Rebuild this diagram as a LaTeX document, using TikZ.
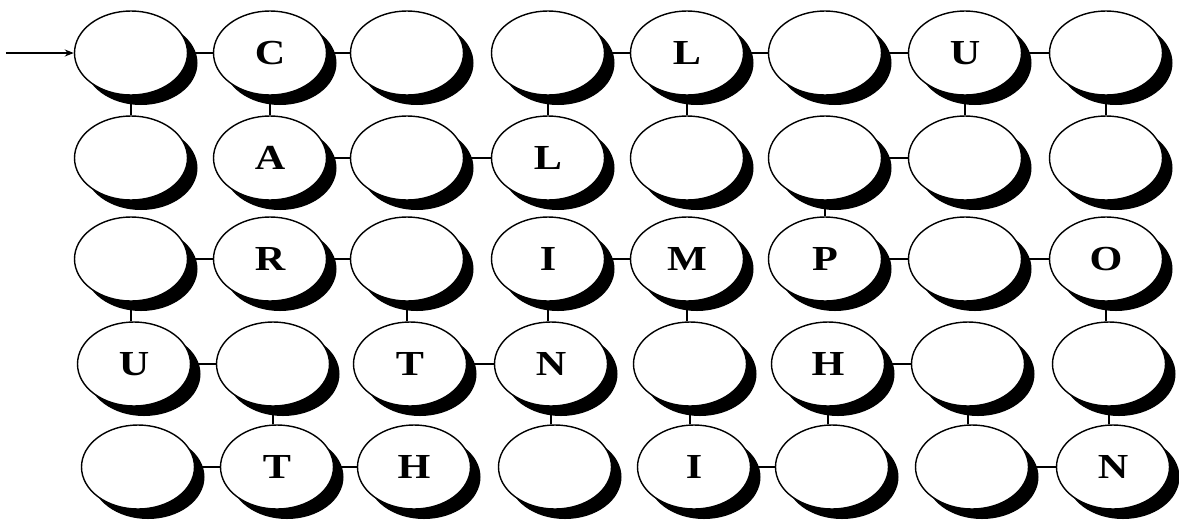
\documentclass[tikz,border=0pt]{standalone}
\usepackage{fontspec}
\usetikzlibrary{shapes.geometric, shadows, arrows.meta}
\newfontfamily\cellfont[FakeStretch=1.2]{Liberation Serif}

\tikzset{
    cell/.style={ellipse, draw, line width=0.8pt, fill=white,
        minimum width=2.26cm, minimum height=1.68cm, inner sep=0pt,
        font=\cellfont\bfseries\fontsize{20}{24}\selectfont,
        drop shadow={shadow xshift=0.2cm, shadow yshift=-0.2cm, fill=black, opacity=1}},
    link/.style={line width=0.8pt}
}

\begin{document}
\begin{tikzpicture}[>=stealth]
    \useasboundingbox (0,0) rectangle (23.58,-10.38);

    % row 1
    \node[cell] (c11) at (2.62,-1.06) {};
    \node[cell] (c12) at (5.40,-1.06) {C};
    \node[cell] (c13) at (8.14,-1.06) {};
    \node[cell] (c14) at (10.96,-1.06) {};
    \node[cell] (c15) at (13.74,-1.06) {L};
    \node[cell] (c16) at (16.50,-1.06) {};
    \node[cell] (c17) at (19.30,-1.06) {U};
    \node[cell] (c18) at (22.12,-1.06) {};

    % row 2
    \node[cell] (c21) at (2.62,-3.16) {};
    \node[cell] (c22) at (5.40,-3.16) {A};
    \node[cell] (c23) at (8.14,-3.16) {};
    \node[cell] (c24) at (10.96,-3.16) {L};
    \node[cell] (c25) at (13.74,-3.16) {};
    \node[cell] (c26) at (16.50,-3.16) {};
    \node[cell] (c27) at (19.30,-3.16) {};
    \node[cell] (c28) at (22.12,-3.16) {};

    % row 3
    \node[cell] (c31) at (2.62,-5.18) {};
    \node[cell] (c32) at (5.40,-5.18) {R};
    \node[cell] (c33) at (8.14,-5.18) {};
    \node[cell] (c34) at (10.96,-5.18) {I};
    \node[cell] (c35) at (13.74,-5.18) {M};
    \node[cell] (c36) at (16.50,-5.18) {P};
    \node[cell] (c37) at (19.30,-5.18) {};
    \node[cell] (c38) at (22.12,-5.18) {O};

    % row 4
    \node[cell] (c41) at (2.68,-7.28) {U};
    \node[cell] (c42) at (5.46,-7.28) {};
    \node[cell] (c43) at (8.20,-7.28) {T};
    \node[cell] (c44) at (11.02,-7.28) {N};
    \node[cell] (c45) at (13.80,-7.28) {};
    \node[cell] (c46) at (16.56,-7.28) {H};
    \node[cell] (c47) at (19.36,-7.28) {};
    \node[cell] (c48) at (22.18,-7.28) {};

    % row 5
    \node[cell] (c51) at (2.76,-9.34) {};
    \node[cell] (c52) at (5.54,-9.34) {T};
    \node[cell] (c53) at (8.28,-9.34) {H};
    \node[cell] (c54) at (11.10,-9.34) {};
    \node[cell] (c55) at (13.88,-9.34) {I};
    \node[cell] (c56) at (16.64,-9.34) {};
    \node[cell] (c57) at (19.44,-9.34) {};
    \node[cell] (c58) at (22.26,-9.34) {N};

    % entry
    \coordinate (start) at (0.12,-1.06);
    \draw[link, -{Stealth[length=1.8mm, width=1.4mm]}] (start) -- (c11.west);

    % horizontal links
    \draw[link] (c11.east) -- (c12.west);
    \draw[link] (c12.east) -- (c13.west);
    \draw[link] (c14.east) -- (c15.west);
    \draw[link] (c15.east) -- (c16.west);
    \draw[link] (c16.east) -- (c17.west);
    \draw[link] (c17.east) -- (c18.west);
    \draw[link] (c22.east) -- (c23.west);
    \draw[link] (c23.east) -- (c24.west);
    \draw[link] (c26.east) -- (c27.west);
    \draw[link] (c31.east) -- (c32.west);
    \draw[link] (c32.east) -- (c33.west);
    \draw[link] (c34.east) -- (c35.west);
    \draw[link] (c36.east) -- (c37.west);
    \draw[link] (c37.east) -- (c38.west);
    \draw[link] (c41.east) -- (c42.west);
    \draw[link] (c43.east) -- (c44.west);
    \draw[link] (c46.east) -- (c47.west);
    \draw[link] (c51.east) -- (c52.west);
    \draw[link] (c52.east) -- (c53.west);
    \draw[link] (c55.east) -- (c56.west);
    \draw[link] (c57.east) -- (c58.west);

    % vertical links
    \draw[link] (c11.south) -- (c11.south |- c21.north);
    \draw[link] (c12.south) -- (c12.south |- c22.north);
    \draw[link] (c14.south) -- (c14.south |- c24.north);
    \draw[link] (c15.south) -- (c15.south |- c25.north);
    \draw[link] (c17.south) -- (c17.south |- c27.north);
    \draw[link] (c18.south) -- (c18.south |- c28.north);
    \draw[link] (c26.south) -- (c26.south |- c36.north);
    \draw[link] (c31.south) -- (c31.south |- c41.north);
    \draw[link] (c33.south) -- (c33.south |- c43.north);
    \draw[link] (c34.south) -- (c34.south |- c44.north);
    \draw[link] (c35.south) -- (c35.south |- c45.north);
    \draw[link] (c38.south) -- (c38.south |- c48.north);
    \draw[link] (c42.south) -- (c42.south |- c52.north);
    \draw[link] (c44.south) -- (c44.south |- c54.north);
    \draw[link] (c45.south) -- (c45.south |- c55.north);
    \draw[link] (c46.south) -- (c46.south |- c56.north);
    \draw[link] (c47.south) -- (c47.south |- c57.north);
    \draw[link] (c48.south) -- (c48.south |- c58.north);
\end{tikzpicture}
\end{document}
